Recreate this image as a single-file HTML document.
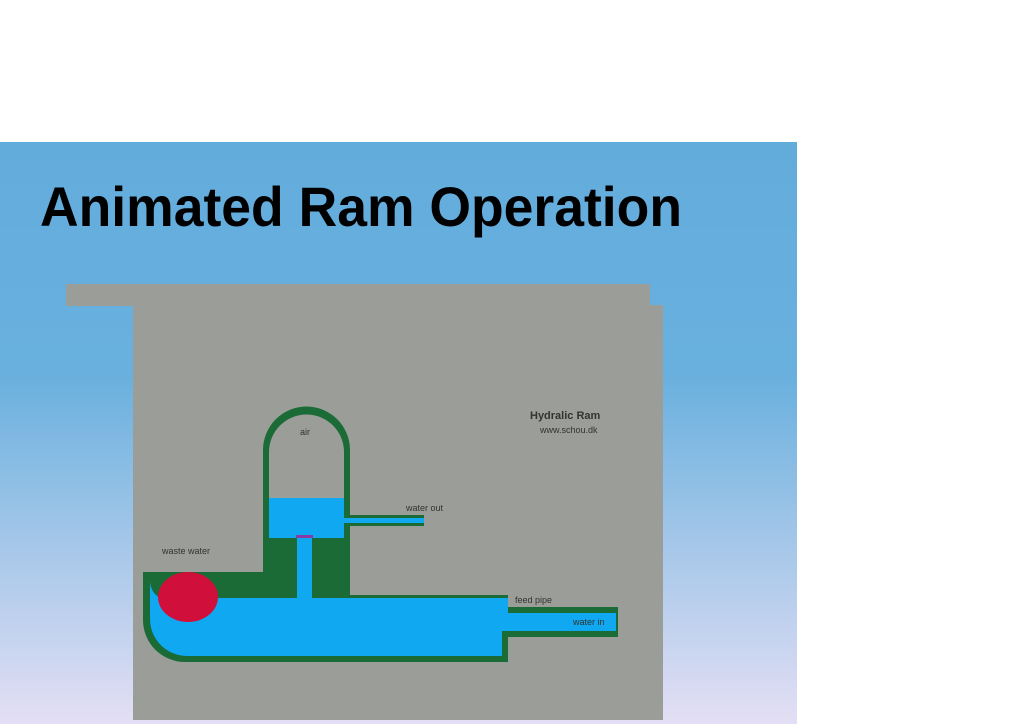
<!DOCTYPE html>
<html><head><meta charset="utf-8"><style>
html,body{margin:0;padding:0;background:#fff;width:1024px;height:724px;overflow:hidden}
</style></head><body>
<svg width="1024" height="724" viewBox="0 0 1024 724" xmlns="http://www.w3.org/2000/svg">
<defs>
<linearGradient id="bg" x1="0" y1="0" x2="0" y2="1">
<stop offset="0" stop-color="#62acdc"/>
<stop offset="0.4" stop-color="#69b0de"/>
<stop offset="1" stop-color="#e4dff4"/>
</linearGradient>
</defs>
<rect x="0" y="0" width="1024" height="724" fill="#fff"/>
<rect x="0" y="142" width="797" height="582" fill="url(#bg)"/>
<text x="40" y="226" font-family="Liberation Sans, sans-serif" font-weight="bold" font-size="56" textLength="642" lengthAdjust="spacingAndGlyphs" fill="#000">Animated Ram Operation</text>
<rect x="66" y="284" width="584" height="22" fill="#9a9d98"/>
<rect x="133" y="305" width="530" height="415" fill="#9a9d98"/>
<!-- dome chamber -->
<path d="M263 538 V450 A43.5 43.5 0 0 1 350 450 V538 Z" fill="#1a6b35"/>
<path d="M269 538 V452 A37.5 37.5 0 0 1 344 452 V538 Z" fill="#9a9d98"/>
<rect x="269" y="498" width="75" height="40" fill="#10a8f0"/>
<rect x="296" y="535" width="17" height="4" fill="#8a3aa0"/>
<!-- water out pipe -->
<rect x="344" y="515" width="80" height="3" fill="#1a6b35"/>
<rect x="344" y="518" width="80" height="5" fill="#10a8f0"/>
<rect x="344" y="523" width="80" height="3" fill="#1a6b35"/>
<!-- lower block -->
<rect x="263" y="538" width="87" height="60" fill="#1a6b35"/>
<rect x="297" y="538" width="15" height="60" fill="#10a8f0"/>
<!-- main pipe -->
<path d="M143 572 H263 V595 H508 V607 H618 V637 H508 V662 H185 A42 42 0 0 1 143 620 Z" fill="#1a6b35"/>
<path d="M150 580 Q150 592 160 598 H508 V613 H616 V631 H502 V656 H187 A37 37 0 0 1 150 619 Z" fill="#10a8f0"/>
<rect x="263" y="572" width="34" height="26" fill="#1a6b35"/>
<rect x="312" y="572" width="38" height="26" fill="#1a6b35"/>
<rect x="297" y="572" width="15" height="30" fill="#10a8f0"/>
<ellipse cx="188" cy="597" rx="30" ry="25" fill="#d0103a"/>
<!-- labels -->
<g font-family="Liberation Sans, sans-serif" fill="#333" font-size="9">
<text x="530" y="419" font-weight="bold" font-size="11">Hydralic Ram</text>
<text x="540" y="433">www.schou.dk</text>
<text x="300" y="435">air</text>
<text x="406" y="511">water out</text>
<text x="162" y="554">waste water</text>
<text x="515" y="603">feed pipe</text>
<text x="573" y="625">water in</text>
</g>
</svg>
</body></html>
